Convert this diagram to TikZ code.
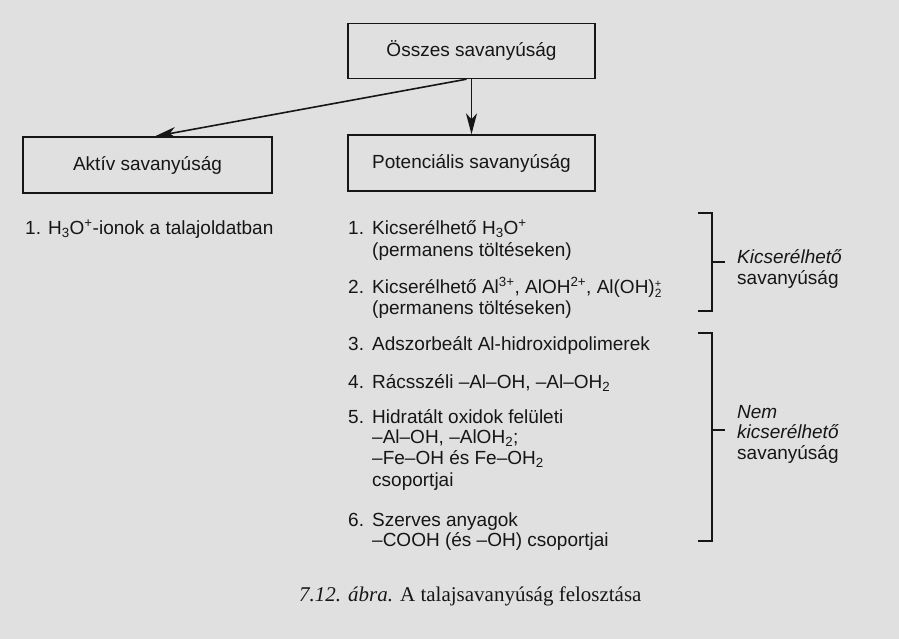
\documentclass[tikz,border=0pt]{standalone}
\usepackage{fontspec}
\setmainfont{Liberation Sans}
\newfontfamily\capfont{Liberation Serif}
\usetikzlibrary{arrows.meta}
\definecolor{paper}{RGB}{224,224,224}
\definecolor{ink}{RGB}{22,22,22}
\newcommand\dfont{\fontsize{19}{22}\selectfont}
\newcommand\plustwo{\rlap{\raisebox{6pt}{\fontsize{11}{11}\selectfont +}}\raisebox{-4.5pt}{\fontsize{12}{12}\selectfont 2}}
\tikzset{
  box/.style={draw=ink, line width=1.4pt, minimum width=247pt, minimum height=55pt, inner sep=0pt, font=\dfont, text=ink},
  arr/.style={draw=ink, line width=1.6pt, -{Stealth[length=21pt,width=11pt,inset=6pt]}},
  txt/.style={anchor=base west, inner sep=0pt, font=\dfont, text=ink},
  brk/.style={draw=ink, line width=1.4pt},
  captxt/.style={anchor=base west, inner sep=0pt, font=\capfont\fontsize{21}{24}\selectfont, text=ink}
}
\begin{document}
\begin{tikzpicture}[x=1pt,y=-1pt]
\useasboundingbox (0,0) rectangle (899,639);
\fill[paper] (0,0) rectangle (899,639);

% boxes
\node[box] (tot) at (471.5,51) {Összes savanyúság};
\node[box, minimum height=56pt] (pot) at (471.5,163) {Potenciális savanyúság};
\node[box, minimum width=249pt, minimum height=56pt] (akt) at (147.5,165) {Aktív savanyúság};

% arrows
\draw[arr] (tot.south) -- (pot.north);
\draw[arr] ([xshift=-5pt]tot.south) -- ([xshift=7.5pt]akt.north);

% left item
\node[txt] (a1) at (25,234) {1. H\textsubscript{3}O\textsuperscript{+}-ionok a talajoldatban};

% right items
\node[txt] (n1) at (348,234) {1.};
\node[txt] (t1a) at (372,234) {Kicserélhető H\textsubscript{3}O\textsuperscript{+}};
\node[txt] (t1b) at (372,256) {(permanens töltéseken)};
\node[txt] (n2) at (348,293) {2.};
\node[txt] (t2a) at (372,293) {Kicserélhető Al\textsuperscript{3+}, AlOH\textsuperscript{2+}, Al(OH)\plustwo};
\node[txt] (t2b) at (372,314) {(permanens töltéseken)};
\node[txt] (n3) at (348,350) {3.};
\node[txt] (t3a) at (372,350) {Adszorbeált Al-hidroxidpolimerek};
\node[txt] (n4) at (348,388) {4.};
\node[txt] (t4a) at (372,388) {Rácsszéli –Al–OH, –Al–OH\textsubscript{2}};
\node[txt] (n5) at (348,423) {5.};
\node[txt] (t5a) at (372,423) {Hidratált oxidok felületi};
\node[txt] (t5b) at (372,443) {–Al–OH, –AlOH\textsubscript{2};};
\node[txt] (t5c) at (372,464) {–Fe–OH és Fe–OH\textsubscript{2}};
\node[txt] (t5d) at (372,486) {csoportjai};
\node[txt] (n6) at (348,526) {6.};
\node[txt] (t6a) at (372,526) {Szerves anyagok};
\node[txt] (t6b) at (372,546) {–COOH (és –OH) csoportjai};

% brackets
\draw[brk] (698,213) -- (712,213) -- (712,311) -- (698,311);
\draw[brk] (712,262) -- (725,262);
\draw[brk] (698,333) -- (712,333) -- (712,541) -- (698,541);
\draw[brk] (712,430) -- (725,430);

% bracket labels
\node[txt] (k1) at (737,263) {\textit{Kicserélhető}};
\node[txt] (k2) at (737,284) {savanyúság};
\node[txt] (m1) at (737,418) {\textit{Nem}};
\node[txt] (m2) at (737,438) {\textit{kicserélhető}};
\node[txt] (m3) at (737,459) {savanyúság};

% caption
\node[captxt] (cap) at (299,601) {\textit{7.12. ábra.} A talajsavanyúság felosztása};
\end{tikzpicture}
\end{document}
